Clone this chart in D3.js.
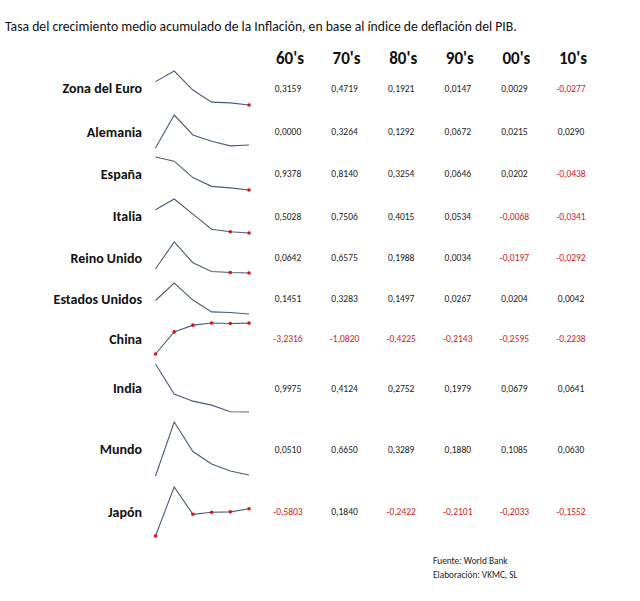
<!DOCTYPE html>
<html>
<head>
<meta charset="utf-8">
<script src="https://cdn.jsdelivr.net/npm/d3@7"></script>
<style>
  body { margin: 0; background: #fff; }
  svg { font-family: Carlito, Lato, "Open Sans", sans-serif; }
</style>
</head>
<body>
<svg id="chart"></svg>
<script>
// Data: average inflation growth (GDP deflator) by decade
const decades = ["60's", "70's", "80's", "90's", "00's", "10's"];
const countries = ["Zona del Euro", "Alemania", "España", "Italia", "Reino Unido",
    "Estados Unidos", "China", "India", "Mundo", "Japón"];
const zonaEuro = [0.3159, 0.4719, 0.1921, 0.0147, 0.0029, -0.0277];
const alemania = [0.0000, 0.3264, 0.1292, 0.0672, 0.0215, 0.0290];
const espana = [0.9378, 0.8140, 0.3254, 0.0646, 0.0202, -0.0438];
const italia = [0.5028, 0.7506, 0.4015, 0.0534, -0.0068, -0.0341];
const reinoUnido = [0.0642, 0.6575, 0.1988, 0.0034, -0.0197, -0.0292];
const estadosUnidos = [0.1451, 0.3283, 0.1497, 0.0267, 0.0204, 0.0042];
const china = [-3.2316, -1.0820, -0.4225, -0.2143, -0.2595, -0.2238];
const india = [0.9975, 0.4124, 0.2752, 0.1979, 0.0679, 0.0641];
const mundo = [0.0510, 0.6650, 0.3289, 0.1880, 0.1085, 0.0630];
const japon = [-0.5803, 0.1840, -0.2422, -0.2101, -0.2033, -0.1552];
const series = [zonaEuro, alemania, espana, italia, reinoUnido,
    estadosUnidos, china, india, mundo, japon];

const title = "Tasa del crecimiento medio acumulado de la Inflación, en base al índice de deflación del PIB.";
const notes = ["Fuente: World Bank", "Elaboración: VKMC, SL"];

// Layout (row cells are uneven, like the spreadsheet they came from)
const width = 640, height = 601;
const rowTop = [71, 115, 157, 199, 242, 283, 323, 364, 422, 487];
const rowBottom = [105, 148, 190, 233, 273, 314, 354, 412, 476, 536];

const svg = d3.select("#chart")
    .attr("width", width)
    .attr("height", height);

// Title
svg.append("text")
    .attr("x", 5)
    .attr("y", 31)
    .attr("font-size", 13.7)
    .attr("fill", "#111")
    .text(title);

// Column positions for the numbers
const colX = d3.scalePoint().domain(decades).range([288, 571]);
// Sparkline x positions
const sparkX = d3.scalePoint().domain(decades).range([155.5, 249]);

// Headers
svg.append("g")
    .selectAll("text")
    .data(decades)
    .join("text")
    .attr("x", d => colX(d) + 2)
    .attr("y", 64)
    .attr("text-anchor", "middle")
    .attr("font-size", 17)
    .attr("font-weight", "bold")
    .attr("fill", "#111")
    .text(d => d);

const fmt = v => v.toFixed(4).replace(".", ",");
const red = "#d11a1a";

const rows = svg.append("g")
    .selectAll("g")
    .data(countries)
    .join("g");

rows.each(function (name, i) {
    const g = d3.select(this);
    const values = series[i];
    const cy = (rowTop[i] + rowBottom[i]) / 2;

    // Country label
    g.append("text")
        .attr("x", 142)
        .attr("y", cy + 5)
        .attr("text-anchor", "end")
        .attr("font-size", 14)
        .attr("font-weight", "bold")
        .attr("fill", "#111")
        .text(name);

    // Sparkline, each row scaled on its own range
    const y = d3.scaleLinear()
        .domain(d3.extent(values))
        .range([rowBottom[i], rowTop[i]]);

    const line = d3.line()
        .x((d, j) => sparkX(decades[j]))
        .y(d => y(d));

    g.append("path")
        .datum(values)
        .attr("d", line)
        .attr("fill", "none")
        .attr("stroke", "#4b5d75")
        .attr("stroke-width", 1.1);

    // Negative values get a red marker
    g.selectAll("circle")
        .data(values.map((v, j) => ({ v, j })).filter(d => d.v < 0))
        .join("circle")
        .attr("cx", d => sparkX(decades[d.j]))
        .attr("cy", d => y(d.v))
        .attr("r", 1.8)
        .attr("fill", "#e01010");

    // Values
    g.selectAll("text.val")
        .data(values)
        .join("text")
        .attr("class", "val")
        .attr("x", (d, j) => colX(decades[j]))
        .attr("y", cy + 3.5)
        .attr("text-anchor", "middle")
        .attr("font-size", 9.5)
        .attr("fill", d => d < 0 ? red : "#222")
        .text(fmt);
});

// Source notes
svg.append("g")
    .selectAll("text")
    .data(notes)
    .join("text")
    .attr("x", 433)
    .attr("y", (d, i) => 564 + i * 14)
    .attr("font-size", 9.3)
    .attr("fill", "#222")
    .text(d => d);
</script>
</body>
</html>
